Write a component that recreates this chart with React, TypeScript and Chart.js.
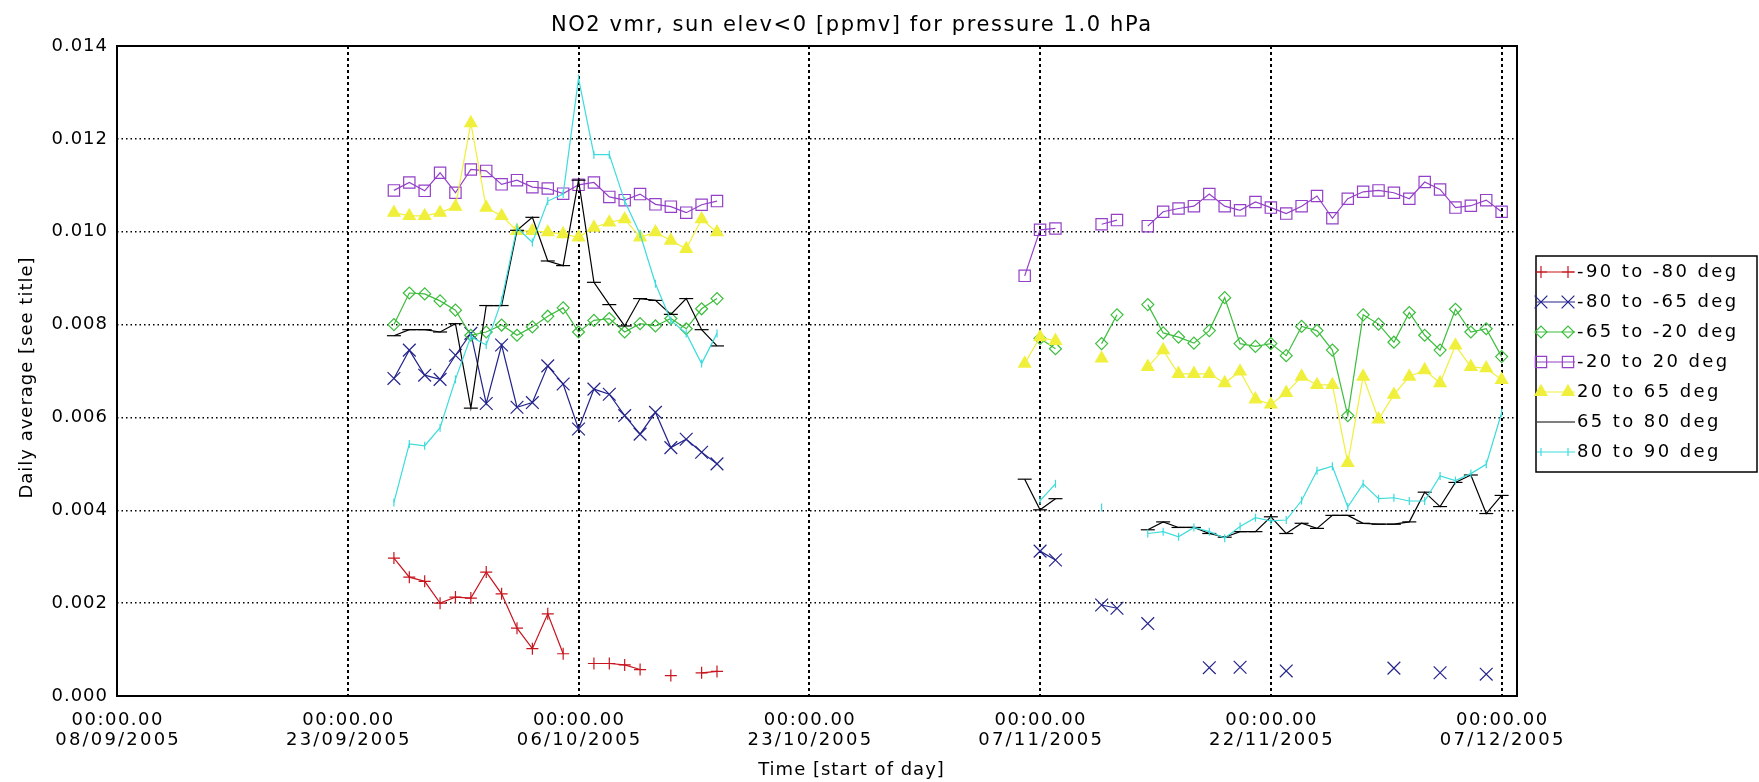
import React, { useEffect, useRef } from 'react';
import { Chart, registerables } from 'chart.js';

Chart.register(...registerables);

// ---- data (day number counted from 08/09/2005 00:00) ----
const days = [
  18, 19, 20, 21, 22, 23, 24, 25, 26, 27, 28, 29, 30, 31, 32, 33, 34, 35, 36, 37, 38, 39,
  59, 60, 61, 62, 63, 64, 65, 66, 67, 68, 69, 70, 71, 72, 73, 74, 75, 76, 77, 78, 79, 80, 81, 82, 83, 84, 85, 86, 87, 88, 89, 90,
];

const xTickDays = [0, 15, 30, 45, 60, 75, 90];
const xTickTimes = ['00:00.00', '00:00.00', '00:00.00', '00:00.00', '00:00.00', '00:00.00', '00:00.00'];
const xTickDates = ['08/09/2005', '23/09/2005', '06/10/2005', '23/10/2005', '07/11/2005', '22/11/2005', '07/12/2005'];
const yTicks = [0, 0.002, 0.004, 0.006, 0.008, 0.01, 0.012, 0.014];

const seriesNames = ['-90 to -80 deg', '-80 to -65 deg', '-65 to -20 deg', '-20 to 20 deg', '20 to 65 deg', '65 to 80 deg', '80 to 90 deg'];

const s90to80 = [
  0.00297, 0.00256, 0.00247, 0.002, 0.00213, 0.00211, 0.00267, 0.0022, 0.00146, 0.00102, 0.00177, 0.00091, null, 0.0007, 0.0007, 0.00067, 0.00057, null, 0.00044, null, 0.0005, 0.00053,
  null, null, null, null, null, null, null, null, null, null, null, null, null, null, null, null, null, null, null, null, null, null, null, null, null, null, null, null, null, null, null, null,
];
const s80to65 = [
  0.00684, 0.00745, 0.00691, 0.00682, 0.00734, 0.00781, 0.0063, 0.00756, 0.00622, 0.00632, 0.00711, 0.00672, 0.00575, 0.00661, 0.0065, 0.00604, 0.00564, 0.00611, 0.00535, 0.00553, 0.00525, 0.005,
  null, 0.00312, 0.00293, null, null, 0.00196, 0.00189, null, 0.00156, null, null, null, 0.00061, null, 0.00062, null, null, 0.00054, null, null, null, null, null, null, 0.0006, null, null, 0.0005, null, null, 0.00047, null,
];
const s65to20 = [
  0.008, 0.00868, 0.00866, 0.00851, 0.00831, 0.00777, 0.00784, 0.00799, 0.00777, 0.00795, 0.00818, 0.00836, 0.00784, 0.00809, 0.00813, 0.00784, 0.00802, 0.00797, 0.00813, 0.00791, 0.00834, 0.00856,
  null, 0.0077, 0.00748, null, null, 0.00759, 0.00821, null, 0.00843, 0.00782, 0.00773, 0.0076, 0.00787, 0.00858, 0.00759, 0.00753, 0.00759, 0.00733, 0.00796, 0.00787, 0.00745, 0.00604, 0.00821, 0.00801, 0.00762, 0.00826, 0.00777, 0.00745, 0.00833, 0.00784, 0.00791, 0.00731,
];
const s20to20 = [
  0.01089, 0.01106, 0.01088, 0.01127, 0.01084, 0.01134, 0.01131, 0.01102, 0.01111, 0.01096, 0.01093, 0.01082, 0.01101, 0.01106, 0.01075, 0.01068, 0.01081, 0.01059, 0.01054, 0.01041, 0.01058, 0.01066,
  0.00905, 0.01004, 0.01007, null, null, 0.01016, 0.01025, null, 0.01012, 0.01043, 0.0105, 0.01055, 0.01081, 0.01055, 0.01046, 0.01064, 0.01052, 0.01039, 0.01055, 0.01077, 0.01029, 0.01071, 0.01086, 0.01089, 0.01084, 0.01071, 0.01107, 0.01091, 0.01052, 0.01056, 0.01068, 0.01043,
];
const s20to65 = [
  0.01041, 0.01034, 0.01034, 0.01041, 0.01054, 0.01234, 0.01052, 0.01034, 0.01002, 0.01002, 0.00999, 0.00995, 0.00988, 0.01009, 0.0102, 0.01027, 0.00988, 0.00999, 0.00981, 0.00963, 0.01027, 0.00999,
  0.00716, 0.00773, 0.00765, null, null, 0.00727, null, null, 0.00709, 0.00745, 0.00694, 0.00694, 0.00694, 0.00674, 0.00699, 0.00639, 0.00628, 0.00653, 0.00688, 0.0067, 0.0067, 0.00502, 0.00688, 0.00596, 0.00649, 0.00688, 0.00702, 0.00674, 0.00755, 0.00709, 0.00706, 0.00681,
];
const s65to80 = [
  0.00776, 0.00789, 0.00789, 0.00784, 0.00802, 0.0062, 0.00841, 0.00841, 0.01003, 0.01031, 0.00937, 0.00927, 0.01111, 0.00891, 0.00843, 0.00797, 0.00856, 0.00852, 0.00822, 0.00856, 0.00789, 0.00754,
  0.00467, 0.00401, 0.00425, null, null, null, null, null, 0.00358, 0.00375, 0.00363, 0.00363, 0.0035, 0.00342, 0.00354, 0.00354, 0.00386, 0.0035, 0.00372, 0.00361, 0.00389, 0.00389, 0.00372, 0.0037, 0.0037, 0.00375, 0.00439, 0.00408, 0.0046, 0.00476, 0.00393, 0.00432,
];
const s80to90 = [
  0.00417, 0.00543, 0.00539, 0.00578, 0.00682, 0.00774, 0.00756, 0.00852, 0.01009, 0.00977, 0.01066, 0.01081, 0.0133, 0.01166, 0.01166, 0.01066, 0.00995, 0.00888, 0.00809, 0.00781, 0.00716, 0.00781,
  null, 0.00421, 0.00457, null, null, 0.00406, null, null, 0.0035, 0.00354, 0.00343, 0.00363, 0.00354, 0.0034, 0.00365, 0.00384, 0.00377, 0.00379, 0.00421, 0.00485, 0.00495, 0.00407, 0.00457, 0.00425, 0.00427, 0.0042, 0.0042, 0.00474, 0.00464, 0.00479, 0.00499, 0.0061,
];

const seriesValues = [s90to80, s80to65, s65to20, s20to20, s20to65, s65to80, s80to90];

// ---- styles ----
const colors = ['#c8141e', '#23238c', '#3cbe3c', '#9440c8', '#f0f03c', '#000000', '#3cdcdc'];
const pStyles = ['cross', 'crossRot', 'rectRot', 'rect', 'triangle', 'line', 'line'];
const pRadius = [6, 9, 6, 8, 7, 7, 4];
const pRotation = [0, 0, 0, 0, 0, 0, 90];
const pFill = [false, false, false, false, true, false, false];

const FONT = '"DejaVu Sans", "Liberation Sans", sans-serif';

function buildPoints(vals: (number | null)[]) {
  const pts: { x: number; y: number | null }[] = [];
  for (let i = 0; i < days.length; i++) {
    if (i > 0 && days[i] - days[i - 1] > 1) pts.push({ x: days[i - 1] + 1, y: null });
    pts.push({ x: days[i], y: vals[i] });
  }
  return pts;
}

function drawText(ctx: any, s: string, x: number, y: number, size: number, spacing: number, align = 'center', rot = 0) {
  ctx.save();
  ctx.translate(x, y);
  if (rot) ctx.rotate(rot);
  ctx.font = `${size}px ${FONT}`;
  try { ctx.letterSpacing = spacing + 'px'; } catch (e) { /* ignore */ }
  ctx.fillStyle = '#000';
  ctx.textAlign = align;
  ctx.textBaseline = 'middle';
  ctx.fillText(s, align === 'center' ? spacing / 2 : 0, 0);
  ctx.restore();
}

function drawMarker(ctx: any, idx: number, x: number, y: number) {
  const r = pRadius[idx];
  const st = pStyles[idx];
  ctx.save();
  ctx.strokeStyle = colors[idx];
  ctx.fillStyle = colors[idx];
  ctx.lineWidth = 1.2;
  ctx.beginPath();
  if (st === 'cross') {
    ctx.moveTo(x - r, y); ctx.lineTo(x + r, y);
    ctx.moveTo(x, y - r); ctx.lineTo(x, y + r);
    ctx.stroke();
  } else if (st === 'crossRot') {
    const o = r * Math.SQRT1_2;
    ctx.moveTo(x - o, y - o); ctx.lineTo(x + o, y + o);
    ctx.moveTo(x - o, y + o); ctx.lineTo(x + o, y - o);
    ctx.stroke();
  } else if (st === 'rectRot') {
    ctx.moveTo(x - r, y); ctx.lineTo(x, y - r); ctx.lineTo(x + r, y); ctx.lineTo(x, y + r); ctx.closePath();
    ctx.stroke();
  } else if (st === 'rect') {
    const o = r * Math.SQRT1_2;
    ctx.rect(x - o, y - o, 2 * o, 2 * o);
    ctx.stroke();
  } else if (st === 'triangle') {
    const h = r * 1.5;
    ctx.moveTo(x, y - r); ctx.lineTo(x + h * 0.577, y + r * 0.5); ctx.lineTo(x - h * 0.577, y + r * 0.5); ctx.closePath();
    ctx.fill(); ctx.stroke();
  } else if (st === 'line' && pRotation[idx] === 90) {
    ctx.moveTo(x, y - r); ctx.lineTo(x, y + r);
    ctx.stroke();
  }
  ctx.restore();
}

const decorPlugin = {
  id: 'idlDecor',
  afterDraw(chart: any) {
    const ctx = chart.ctx;
    const area = chart.chartArea;
    const xs = chart.scales.x;
    const ys = chart.scales.y;

    // frame
    ctx.save();
    ctx.strokeStyle = '#000';
    ctx.lineWidth = 2;
    ctx.strokeRect(area.left, area.top, area.right - area.left, area.bottom - area.top);
    ctx.restore();

    // title
    drawText(ctx, 'NO2 vmr, sun elev<0 [ppmv] for pressure 1.0 hPa', 851, 26, 21, 1.6);

    // y tick labels
    yTicks.forEach((v) => {
      drawText(ctx, v.toFixed(3), area.left - 9, ys.getPixelForValue(v), 18, 1, 'right');
    });
    // x tick labels
    xTickDays.forEach((d, i) => {
      const px = xs.getPixelForValue(d);
      drawText(ctx, xTickTimes[i], px, area.bottom + 24, 18, 1.5);
      drawText(ctx, xTickDates[i], px, area.bottom + 44, 18, 2.2);
    });

    // axis titles
    drawText(ctx, 'Time [start of day]', 851, 770, 18, 1);
    drawText(ctx, 'Daily average [see title]', 27, 378, 18, 1, 'center', -Math.PI / 2);

    // legend
    const lx = 1536;
    const ly = 256;
    const rowH = 30;
    ctx.save();
    ctx.strokeStyle = '#000';
    ctx.lineWidth = 1.5;
    ctx.strokeRect(lx, ly, 1757 - lx, rowH * seriesNames.length + 6);
    ctx.restore();
    seriesNames.forEach((name, i) => {
      const y = ly + 16 + i * rowH;
      ctx.save();
      ctx.strokeStyle = colors[i];
      ctx.lineWidth = 1.2;
      ctx.beginPath();
      ctx.moveTo(lx + 1, y);
      ctx.lineTo(lx + 39, y);
      ctx.stroke();
      ctx.restore();
      drawMarker(ctx, i, lx + 5, y);
      drawMarker(ctx, i, lx + 32, y);
      drawText(ctx, name, lx + 41, y, 18, 2.4, 'left');
    });
  },
};

export default function App() {
  const canvasRef = useRef<HTMLCanvasElement | null>(null);

  useEffect(() => {
    const canvas = canvasRef.current;
    if (!canvas) return;
    const datasets = seriesValues.map((vals, i) => ({
      label: seriesNames[i],
      data: buildPoints(vals),
      borderColor: colors[i],
      backgroundColor: colors[i],
      borderWidth: 1.2,
      pointStyle: pStyles[i],
      pointRadius: pRadius[i],
      pointRotation: pRotation[i],
      pointBorderColor: colors[i],
      pointBackgroundColor: pFill[i] ? colors[i] : 'rgba(0,0,0,0)',
      pointBorderWidth: 1.2,
      tension: 0,
      spanGaps: false,
      order: seriesValues.length - 1 - i,
    }));

    const chart = new Chart(canvas, {
      type: 'line',
      data: { datasets },
      options: {
        animation: false,
        responsive: false,
        devicePixelRatio: 1,
        events: [],
        layout: { padding: { left: 0, top: 46, right: 242, bottom: 0 } },
        plugins: {
          legend: { display: false },
          title: { display: false },
          tooltip: { enabled: false },
        },
        scales: {
          x: {
            type: 'linear',
            min: 0,
            max: 91,
            afterBuildTicks: (scale: any) => {
              scale.ticks = xTickDays.map((v) => ({ value: v }));
            },
            afterFit: (scale: any) => {
              scale.height = 86;
            },
            ticks: { display: false },
            grid: { color: '#000', lineWidth: 2, drawTicks: false },
            border: { display: false, dash: [3, 3] },
          },
          y: {
            type: 'linear',
            min: 0,
            max: 0.014,
            afterBuildTicks: (scale: any) => {
              scale.ticks = yTicks.map((v) => ({ value: v }));
            },
            afterFit: (scale: any) => {
              scale.width = 117;
            },
            ticks: { display: false },
            grid: { color: '#000', lineWidth: 1.5, drawTicks: false },
            border: { display: false, dash: [1.5, 3] },
          },
        },
      },
      plugins: [decorPlugin],
    } as any);

    return () => {
      chart.destroy();
    };
  }, []);

  return (
    <div style={{ position: 'absolute', left: 0, top: 0, width: 1759, height: 782, background: '#fff' }}>
      <canvas ref={canvasRef} width={1759} height={782} style={{ width: 1759, height: 782, display: 'block' }} />
    </div>
  );
}
